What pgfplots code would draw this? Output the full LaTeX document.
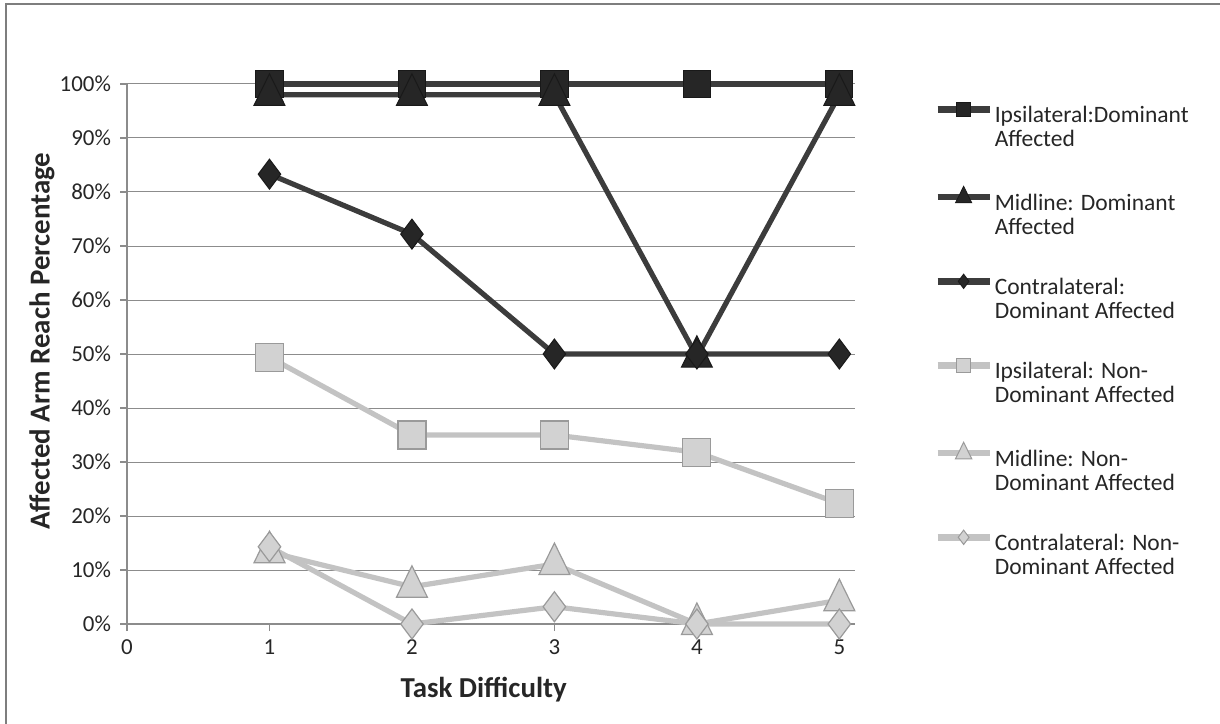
\documentclass[border=0pt]{standalone}
\usepackage{pgfplots}
\pgfplotsset{compat=1.18}
\usepackage{fontspec}
\setmainfont{Carlito}
\definecolor{darkln}{HTML}{3C3C3C}
\definecolor{darkmk}{HTML}{262626}
\definecolor{lightln}{HTML}{C3C3C3}
\definecolor{lightmk}{HTML}{D2D2D2}
\definecolor{lightbd}{HTML}{9A9A9A}
\definecolor{gridc}{HTML}{8C8C8C}
\definecolor{txt}{HTML}{262626}
\begin{document}
\begin{tikzpicture}[x=1bp,y=1bp]
\useasboundingbox (0,0) rectangle (610,361.5);
\draw[color=gridc!90!black, line width=1bp] (3.2,-2) -- (3.2,359.7) -- (612,359.7);
\begin{axis}[
  at={(63.5bp,49.5bp)}, anchor=south west,
  scale only axis, width=364bp, height=270bp,
  xmin=0, xmax=5.11, ymin=0, ymax=100,
  axis x line*=bottom, axis y line*=left,
  axis line style={color=gridc, line width=0.6bp},
  xtick={0,1,2,3,4,5}, ytick={0,10,...,100},
  yticklabel={\pgfmathprintnumber{\tick}\%},
  /pgf/number format/assume math mode=true,
  tick align=outside, major tick length=3.5bp,
  tick style={color=gridc, line width=0.6bp},
  ymajorgrids, grid style={color=gridc, line width=0.5bp},
  ticklabel style={font=\fontsize{11.5}{13}\selectfont, color=txt},
  xticklabel style={yshift=-1bp},
  yticklabel style={xshift=-1bp},
  xlabel={Task Difficulty}, ylabel={Affected Arm Reach Percentage},
  label style={font=\bfseries\fontsize{14.5}{16}\selectfont, color=txt},
  xlabel style={at={(axis description cs:0.49,-0.122)}, anchor=center},
  ylabel style={at={(axis description cs:-0.1167,0.524)}, anchor=center},
  clip=false,
  legend image code/.code={\draw[mark repeat=2,mark phase=2,yshift=3bp] plot coordinates {(0bp,0bp)(13bp,0bp)(26bp,0bp)};},
  every legend image post/.append style={line width=3.2bp},
  legend style={at={(axis description cs:1.1085,0.967)}, anchor=north west, draw=none, fill=none,
    font=\fontsize{11.8}{12}\selectfont, text=txt, row sep=29.5bp, inner sep=0pt,
    nodes={inner sep=1pt}},
  legend cell align=left,
]
\addplot[color=darkln, line width=2.6bp, mark=square*, mark size=6.8bp,
  mark options={fill=darkmk, draw=black!90, line width=0.5bp}, forget plot] coordinates {(1,100)(2,100)(3,100)(4,100)(5,100)};
\addlegendimage{color=darkln, mark=square*, mark size=3.6bp, mark options={fill=darkmk, draw=black!90, line width=0.4bp}}
\addlegendentry{\begin{tabular}[t]{@{}l@{}}Ipsilateral:Dominant\\Affected\end{tabular}}
\addplot[color=darkln, line width=2.6bp, mark=triangle*, mark size=10.5bp,
  mark options={fill=darkmk, draw=black!90, line width=0.5bp, xscale=0.85}, forget plot] coordinates {(1,98)(2,98)(3,98)(4,49.5)(5,98)};
\addlegendimage{color=darkln, mark=triangle*, mark size=5.5bp, mark options={fill=darkmk, draw=black!90, line width=0.4bp, xscale=0.85}}
\addlegendentry{\begin{tabular}[t]{@{}l@{}}Midline: Dominant\\Affected\end{tabular}}
\addplot[color=darkln, line width=2.6bp, mark=diamond*, mark size=7.5bp,
  mark options={fill=darkmk, draw=black!90, line width=0.5bp}, forget plot] coordinates {(1,83.3)(2,72.2)(3,50)(4,50)(5,50)};
\addlegendimage{color=darkln, mark=diamond*, mark size=3.6bp, mark options={fill=darkmk, draw=black!90, line width=0.4bp}}
\addlegendentry{\begin{tabular}[t]{@{}l@{}}Contralateral:\\Dominant Affected\end{tabular}}
\addplot[color=lightln, line width=2.6bp, mark=square*, mark size=7bp,
  mark options={fill=lightmk, draw=lightbd, line width=0.6bp}, forget plot] coordinates {(1,49.4)(2,35)(3,35)(4,31.8)(5,22.3)};
\addlegendimage{color=lightln, mark=square*, mark size=3.6bp, mark options={fill=lightmk, draw=lightbd, line width=0.5bp}}
\addlegendentry{\begin{tabular}[t]{@{}l@{}}Ipsilateral: Non-\\Dominant Affected\end{tabular}}
\addplot[color=lightln, line width=2.6bp, mark=triangle*, mark size=10.5bp,
  mark options={fill=lightmk, draw=lightbd, line width=0.6bp, xscale=0.85}, forget plot] coordinates {(1,13.3)(2,6.9)(3,11.1)(4,0)(5,4.4)};
\addlegendimage{color=lightln, mark=triangle*, mark size=5.5bp, mark options={fill=lightmk, draw=lightbd, line width=0.5bp, xscale=0.85}}
\addlegendentry{\begin{tabular}[t]{@{}l@{}}Midline: Non-\\Dominant Affected\end{tabular}}
\addplot[color=lightln, line width=2.6bp, mark=diamond*, mark size=7.5bp,
  mark options={fill=lightmk, draw=lightbd, line width=0.6bp}, forget plot] coordinates {(1,14.3)(2,0)(3,3.2)(4,0)(5,0)};
\addlegendimage{color=lightln, mark=diamond*, mark size=3.6bp, mark options={fill=lightmk, draw=lightbd, line width=0.5bp}}
\addlegendentry{\begin{tabular}[t]{@{}l@{}}Contralateral: Non-\\Dominant Affected\end{tabular}}
\end{axis}
\end{tikzpicture}
\end{document}
